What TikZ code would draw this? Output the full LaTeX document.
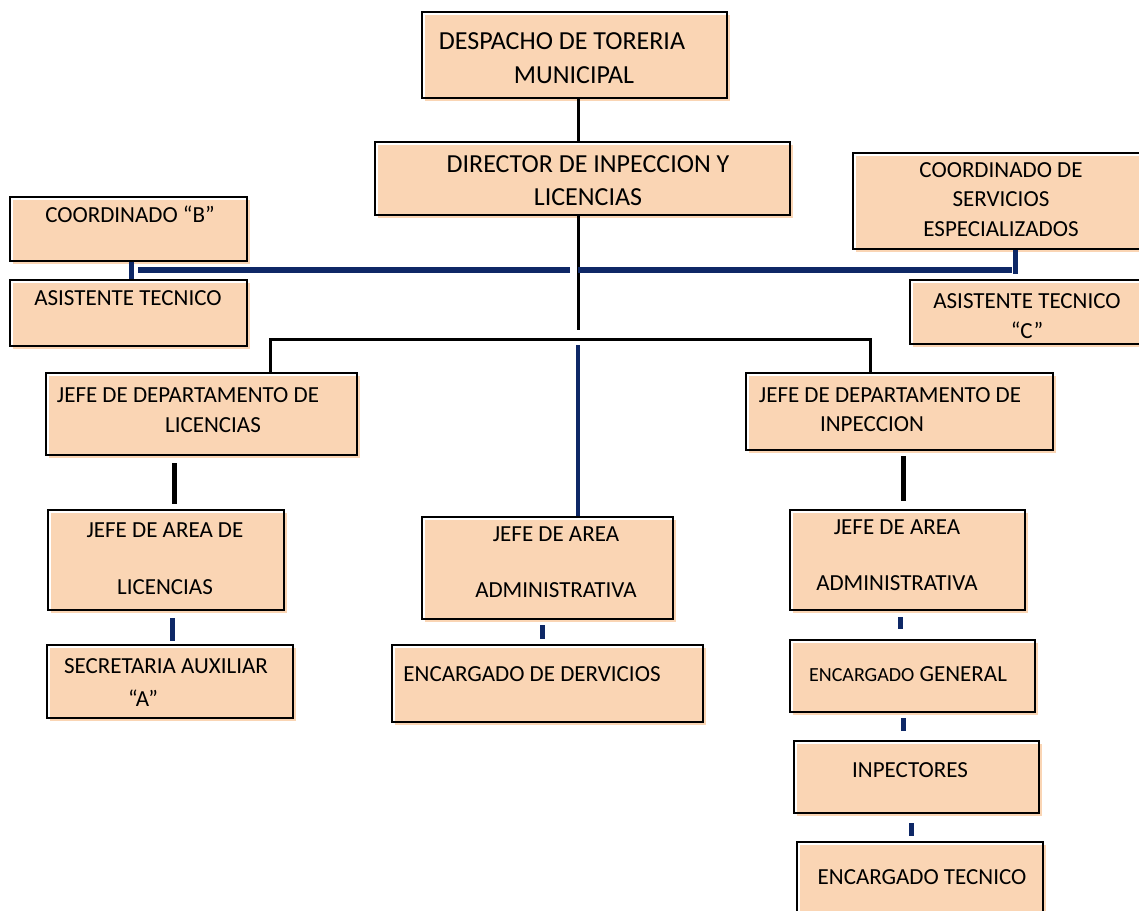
\documentclass[tikz,border=0pt]{standalone}
\usepackage{fontspec}
\setmainfont{Carlito}
\usetikzlibrary{fit,shadows}
\definecolor{durazno}{RGB}{250,213,180}
\definecolor{marino}{RGB}{14,40,102}
\def\marco{2.6pt}
\def\sombra{3pt}

\begin{document}
\begin{tikzpicture}[x=1pt, y=-1pt, line cap=butt,
                    cargo/.style={draw, line width=\marco, inner sep=0pt,
                      drop shadow={shadow xshift=\sombra, shadow yshift=-\sombra,
                                   fill=durazno, draw=none, opacity=1}},
                    rotulo/.style={align=center, inner sep=0pt,
                      font=\fontsize{23}{29}\selectfont},
                    negro/.style={line width=3pt},
                    azul/.style={draw=marino, line width=5pt}
                   ]
\useasboundingbox (0,0) rectangle (1139,910);

% cajas
\node [cargo, fit={(422,12) (727,98)}]    (desp) {};
\node [cargo, fit={(375,142) (790,215)}]  (dir) {};
\node [cargo, fit={(10,197) (247,261)}]   (coorB) {};
\node [cargo, fit={(10,280) (247,346)}]   (asisB) {};
\node [cargo, fit={(853,153) (1150,249)}] (coorC) {};
\node [cargo, fit={(910,280) (1150,344)}] (asisC) {};
\node [cargo, fit={(46,373) (357,455)}]   (jdl) {};
\node [cargo, fit={(746,373) (1053,450)}] (jdi) {};
\node [cargo, fit={(48,510) (284,610)}]   (jal) {};
\node [cargo, fit={(47,645) (293,718)}]   (sec) {};
\node [cargo, fit={(422,517) (673,619)}]  (jaaM) {};
\node [cargo, fit={(392,645) (703,722)}]  (encD) {};
\node [cargo, fit={(790,510) (1025,610)}] (jaaR) {};
\node [cargo, fit={(790,640) (1035,712)}] (encG) {};
\node [cargo, fit={(794,741) (1039,813)}] (insp) {};
\node [cargo, fit={(797,842) (1043,930)}] (encT) {};

% textos
\node [rotulo, font=\fontsize{26}{34}\selectfont] (despT) at (562,58)
      {DESPACHO DE TORERIA\\\hspace*{24pt}MUNICIPAL};
\node [rotulo, font=\fontsize{26}{33}\selectfont] (dirT) at (588,181)
      {DIRECTOR DE INPECCION Y\\LICENCIAS};
\node [rotulo] (coorBT) at (130,214) {COORDINADO “B”};
\node [rotulo] (asisBT) at (128,298) {ASISTENTE TECNICO};
\node [rotulo, font=\fontsize{23}{29.5}\selectfont] (coorCT) at (1001,199.5)
      {COORDINADO DE\\SERVICIOS\\ESPECIALIZADOS};
\node [rotulo, font=\fontsize{23}{30}\selectfont] (asisCT) at (1027,316)
      {ASISTENTE TECNICO\\“C”};
\node [rotulo, font=\fontsize{23}{30}\selectfont] (jdlT) at (188,410)
      {JEFE DE DEPARTAMENTO DE\\\hspace*{50pt}LICENCIAS};
\node [rotulo] (jdiT) at (890,409.5)
      {JEFE DE DEPARTAMENTO DE\\INPECCION\hspace*{36pt}};
\node [rotulo] (jalT) at (165,558.5) {JEFE DE AREA DE\\[28pt]LICENCIAS};
\node [rotulo, font=\fontsize{23}{33}\selectfont] (secT) at (166,682.5)
      {SECRETARIA AUXILIAR\\“A”\hspace*{46pt}};
\node [rotulo] (jaaMT) at (556,562) {JEFE DE AREA\\[27pt]ADMINISTRATIVA};
\node [rotulo] (encDT) at (532,674) {ENCARGADO DE DERVICIOS};
\node [rotulo] (jaaRT) at (897,555) {JEFE DE AREA\\[27pt]ADMINISTRATIVA};
\node [rotulo] (encGT) at (908,674)
      {{\fontsize{20}{24}\selectfont ENCARGADO} GENERAL};
\node [rotulo] (inspT) at (910,770) {INPECTORES};
\node [rotulo] (encTT) at (922,877) {ENCARGADO TECNICO};

% lineas
\coordinate (eje) at (578,330);
\coordinate (ramB) at (131,270);
\coordinate (ramC) at (1015,270);
\coordinate (barL) at (270,339);
\coordinate (barR) at (870,339);
\coordinate (medio) at (578,345);

\draw [negro] (desp.south -| eje) -- (dir.north -| eje);
\draw [negro] (dir.south -| eje) -- (eje);
\draw [negro] (jdl.north -| barL) -- (barL) -- (barR) -- (jdi.north -| barR);
\draw [azul, line width=3.5pt] (medio) -- (jaaM.north -| medio);

\draw [azul] (coorB.south -| ramB) -- (asisB.north -| ramB);
\draw [azul, line width=6pt] ([xshift=7pt]ramB) -- ([xshift=-8pt]ramB -| eje);
\draw [azul, line width=6pt] (ramC -| eje) -- ([xshift=-3pt]ramC);
\draw [azul] (coorC.south -| ramC) -- ([yshift=-4pt]ramC);

\draw [negro, line width=5pt, shorten <=7pt, shorten >=5pt]
      ([xshift=-27.5pt]jdl.south) -- ([xshift=-27.5pt]jdl.south |- jal.north);
\draw [negro, line width=5pt, shorten <=5pt, shorten >=8pt]
      ([xshift=3.5pt]jdi.south) -- ([xshift=3.5pt]jdi.south |- jaaR.north);

\foreach \a/\b/\dx/\s/\e in {jal/sec/6/7/3, jaaM/encD/-5.5/5/5,
                            jaaR/encG/-7.5/6/10, encG/insp/-9.5/5/9,
                            insp/encT/-5.5/9/5}
  \draw [azul, shorten <=\s pt, shorten >=\e pt]
        ([xshift=\dx pt]\a.south) -- ([xshift=\dx pt]\a.south |- \b.north);
\end{tikzpicture}
\end{document}
